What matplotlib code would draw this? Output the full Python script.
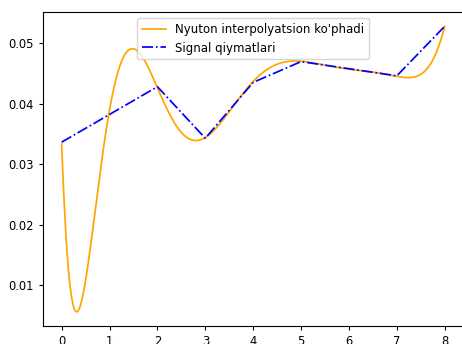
import numpy as np
import matplotlib
matplotlib.use("Agg")
import matplotlib.pyplot as plt

# signal samples (blue line)
x_points = [0, 1, 2, 3, 4, 5, 6, 7, 8]
y_points = [0.03366, 0.03825, 0.04284, 0.03431, 0.04356, 0.0470, 0.04582, 0.04464, 0.05284]

# readings of the interpolation polynomial (orange curve)
curve_x = [0, 0.09, 0.32, 0.62, 0.83, 0.97, 1.09, 1.48, 2.01, 2.32, 2.86, 3.5, 3.99,
	4.34, 4.75, 5.0, 5.5, 6.0, 6.5, 6.98, 7.22, 7.67, 7.84, 8.0]
curve_y = [0.0336, 0.0177, 0.0060, 0.0177, 0.0286, 0.0384, 0.0434, 0.0486, 0.0428, 0.0371,
	0.0341, 0.0386, 0.0437, 0.0459, 0.0471, 0.0470, 0.0464, 0.0458, 0.0452, 0.0446,
	0.0444, 0.0461, 0.0489, 0.0528]

plt.rcParams['font.size'] = 8.3
plt.rcParams['lines.linewidth'] = 1.25
plt.rcParams['xtick.major.size'] = 2.9
plt.rcParams['ytick.major.size'] = 2.9

poly = np.polynomial.Polynomial.fit(curve_x, curve_y, 12)
xx = np.linspace(x_points[0], x_points[-1], 400)
yy = poly(xx)

fig = plt.figure(figsize=(4.62, 3.44), dpi=100)
ax = fig.add_axes([0.092, 0.052, 0.912, 0.913])
ax.plot(xx, yy, color="orange", label="Nyuton interpolyatsion ko'phadi")
ax.plot(x_points, y_points, color="blue", linestyle="-.", label="Signal qiymatlari")
ax.legend(loc="upper center", fontsize=8.5)

plt.savefig("out.png")
